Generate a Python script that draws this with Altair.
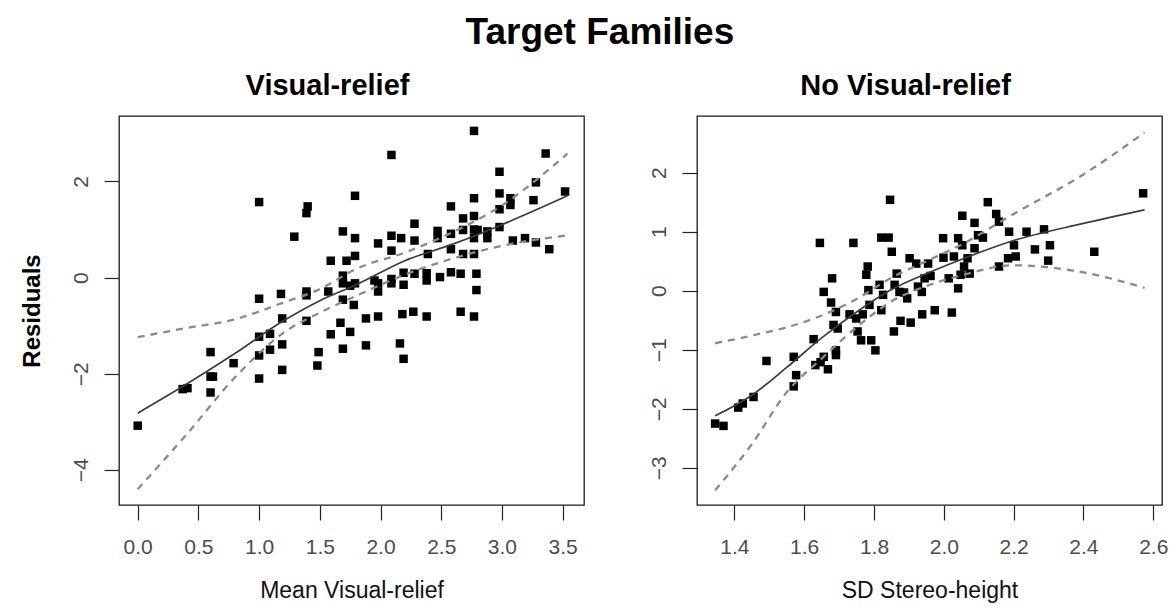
import altair as alt
import pandas as pd

# ---- Visual-relief panel: residuals against mean visual relief ----
vr_x = [0.00, 0.37, 0.41, 0.60, 0.60, 0.62, 0.60, 0.79, 1.00, 1.00, 1.00, 1.00, 1.00,
        1.09, 1.09, 1.18, 1.19, 1.19, 1.19, 1.29, 1.39, 1.40, 1.39, 1.39, 1.39, 1.49,
        1.48, 1.57, 1.59, 1.59, 1.67, 1.69, 1.69, 1.69, 1.69, 1.69, 1.72, 1.75, 1.79,
        1.79, 1.79, 1.79, 1.78, 1.75, 1.88, 1.88, 1.98, 1.98, 1.98, 1.98, 1.95, 2.09,
        2.09, 2.09, 2.09, 2.09, 2.16, 2.19, 2.18, 2.17, 2.19, 2.19, 2.27, 2.28, 2.28,
        2.28, 2.38, 2.38, 2.38, 2.39, 2.47, 2.47, 2.49, 2.58, 2.58, 2.58, 2.58, 2.66,
        2.66, 2.68, 2.68, 2.68, 2.77, 2.77, 2.77, 2.77, 2.77, 2.77, 2.79, 2.79, 2.77,
        2.80, 2.88, 2.88, 2.98, 2.98, 2.98, 2.98, 3.07, 3.07, 3.09, 3.19, 3.26, 3.28,
        3.28, 3.36, 3.39, 3.52]
vr_y = [-3.08, -2.32, -2.30, -1.55, -2.06, -2.06, -2.39, -1.78, 1.57, -0.44, -1.23, -1.62,
        -2.10, -1.17, -1.50, -0.34, -0.85, -1.39, -1.92, 0.85, 1.34, 1.48, -0.29, -0.37,
        -0.90, -1.55, -1.83, -0.29, 0.35, -1.18, -0.94, 0.96, 0.04, -0.12, -0.46, -1.48,
        0.35, -1.13, 1.70, 0.82, 0.45, -0.12, -0.57, -0.17, -0.85, -1.41, 0.71, -0.12,
        -0.29, -0.81, -0.06, 2.55, 0.87, 0.56, -0.03, -0.12, -1.37, -1.69, -0.76, 0.82,
        -0.15, 0.10, -0.71, 1.12, 0.77, 0.08, -0.81, 0.09, -0.06, 0.49, 0.97, 0.82, 0.01,
        1.48, 0.91, 0.59, 0.11, 0.08, -0.71, 1.23, 0.99, 0.49, 3.05, 1.65, 1.28, 1.00,
        0.82, 0.49, 0.08, -0.26, -0.81, 0.99, 0.96, 0.82, 2.20, 1.75, 1.42, 1.05, 1.65,
        1.51, 0.77, 0.82, 1.61, 1.98, 0.73, 2.58, 0.59, 1.79]

# smooth fit with its upper and lower band
vr_cx = [0.00, 0.40, 0.80, 1.20, 1.50, 1.80, 2.20, 2.60, 3.00, 3.54]
vr_fit = [-2.82, -2.22, -1.58, -0.90, -0.48, -0.15, 0.35, 0.70, 1.10, 1.70]
vr_upper = [-1.24, -1.05, -0.87, -0.52, -0.24, 0.18, 0.52, 0.95, 1.50, 2.58]
vr_lower = [-4.40, -3.27, -2.08, -1.15, -0.73, -0.38, 0.06, 0.40, 0.66, 0.88]

# ---- No Visual-relief panel: residuals against SD of stereo height ----
nvr_x = [1.345, 1.369, 1.411, 1.424, 1.455, 1.492, 1.570, 1.577, 1.570, 1.627, 1.632,
         1.647, 1.656, 1.668, 1.645, 1.656, 1.680, 1.677, 1.691, 1.684, 1.696, 1.691,
         1.691, 1.730, 1.741, 1.749, 1.753, 1.763, 1.768, 1.782, 1.778, 1.784, 1.787,
         1.792, 1.804, 1.816, 1.821, 1.842, 1.821, 1.826, 1.846, 1.851, 1.859, 1.857,
         1.865, 1.873, 1.876, 1.886, 1.895, 1.902, 1.905, 1.921, 1.926, 1.937, 1.938,
         1.945, 1.955, 1.962, 1.974, 1.998, 1.999, 2.014, 2.023, 2.029, 2.041, 2.041,
         2.048, 2.053, 2.053, 2.058, 2.068, 2.074, 2.088, 2.088, 2.098, 2.112, 2.126,
         2.150, 2.158, 2.158, 2.187, 2.184, 2.201, 2.206, 2.237, 2.261, 2.287, 2.299,
         2.304, 2.431, 2.571]
nvr_y = [-2.25, -2.29, -1.98, -1.91, -1.80, -1.19, -1.12, -1.43, -1.62, -0.82, -1.26,
         -1.21, -1.12, -1.33, 0.81, -0.02, 0.21, -0.20, -0.36, -0.58, -0.64, -1.01,
         -1.09, -0.40, 0.81, -0.47, -0.69, -0.84, -0.40, 0.41, 0.27, 0.01, -0.24, -0.84,
         -1.01, 0.10, 0.90, 0.90, -0.33, -0.07, 1.54, 0.66, 0.10, -0.69, 0.29, -0.02,
         -0.51, -0.03, -0.13, 0.55, -0.54, 0.46, 0.07, -0.02, -0.40, 0.21, 0.46, 0.25,
         -0.33, 0.89, 0.56, 0.21, -0.37, 0.58, 0.89, 0.04, 0.27, 1.27, 0.77, 0.41, 0.55,
         0.29, 1.15, 0.72, 0.94, 0.90, 1.50, 1.30, 1.17, 0.41, 1.00, 0.55, 0.77, 0.58,
         1.00, 0.70, 1.04, 0.51, 0.77, 0.66, 1.65]

nvr_cx = [1.345, 1.45, 1.55, 1.65, 1.75, 1.85, 1.95, 2.05, 2.20, 2.40, 2.575]
nvr_fit = [-2.12, -1.77, -1.30, -0.80, -0.36, 0.02, 0.29, 0.53, 0.85, 1.14, 1.37]
nvr_upper = [-0.89, -0.76, -0.62, -0.42, -0.14, 0.22, 0.50, 0.78, 1.30, 1.97, 2.68]
nvr_lower = [-3.38, -2.60, -1.72, -1.15, -0.62, -0.18, 0.08, 0.26, 0.43, 0.31, 0.05]

TITLE_FONT = "Liberation Sans, Arial, sans-serif"
LABEL_FONT = "Liberation Sans, Arial, sans-serif"
LABEL_COLOR = "#484d55"


def panel(px, py, cx, fit, upper, lower, title, xtitle, xdom, ydom, xticks, yticks,
          ytitle=None):
    pts = pd.DataFrame({"x": px, "y": py})
    fit_df = pd.DataFrame({"x": cx, "y": fit})
    band_df = pd.concat([
        pd.DataFrame({"x": cx, "y": upper, "band": "upper"}),
        pd.DataFrame({"x": cx, "y": lower, "band": "lower"}),
    ])

    x_axis = alt.Axis(values=xticks, format=".1f", grid=False, domain=False,
                      tickSize=15, tickColor="#222", tickWidth=1.2,
                      labelFont=LABEL_FONT, labelFontSize=21, labelColor=LABEL_COLOR,
                      labelPadding=16, title=xtitle, titleFont=LABEL_FONT,
                      titleFontSize=23, titleFontWeight="normal", titleColor="#111",
                      titlePadding=22)
    y_kwargs = dict(values=yticks, format="d", grid=False, domain=False,
                    tickSize=15, tickColor="#222", tickWidth=1.2,
                    labelFont=LABEL_FONT, labelFontSize=21, labelColor=LABEL_COLOR,
                    labelAngle=270, labelAlign="center", labelBaseline="bottom",
                    labelPadding=13)
    if ytitle:
        y_axis = alt.Axis(title=ytitle, titleFont=TITLE_FONT, titleFontSize=24,
                          titleFontWeight="bold", titleColor="#000", titlePadding=26,
                          **y_kwargs)
    else:
        y_axis = alt.Axis(title=None, **y_kwargs)

    xs = alt.Scale(domain=xdom, nice=False, zero=False)
    ys = alt.Scale(domain=ydom, nice=False, zero=False)

    points = alt.Chart(pts).mark_square(size=72, color="#000", opacity=1).encode(
        x=alt.X("x:Q", scale=xs, axis=x_axis),
        y=alt.Y("y:Q", scale=ys, axis=y_axis),
    )
    band = alt.Chart(band_df).mark_line(
        color="#8a8a8a", strokeWidth=2.3, strokeDash=[7, 6], interpolate="monotone"
    ).encode(x=alt.X("x:Q", scale=xs), y=alt.Y("y:Q", scale=ys), detail="band:N")
    line = alt.Chart(fit_df).mark_line(
        color="#3c3c3c", strokeWidth=1.7, interpolate="monotone"
    ).encode(x=alt.X("x:Q", scale=xs), y=alt.Y("y:Q", scale=ys))

    return alt.layer(points, band, line).properties(
        width=465, height=389,
        title=alt.TitleParams(title, font=TITLE_FONT, fontSize=29, fontWeight="bold",
                              color="#000", offset=15, dx=-24),
    )


left = panel(vr_x, vr_y, vr_cx, vr_fit, vr_upper, vr_lower, "Visual-relief",
             "Mean Visual-relief", [-0.154, 3.676], [-4.73, 3.36],
             [0.0, 0.5, 1.0, 1.5, 2.0, 2.5, 3.0, 3.5], [-4, -2, 0, 2], "Residuals")
right = panel(nvr_x, nvr_y, nvr_cx, nvr_fit, nvr_upper, nvr_lower, "No Visual-relief",
              "SD Stereo-height", [1.293, 2.625], [-3.63, 2.96],
              [1.4, 1.6, 1.8, 2.0, 2.2, 2.4, 2.6], [-3, -2, -1, 0, 1, 2])

chart = alt.hconcat(left, right, spacing=62).properties(
    title=alt.TitleParams("Target Families", font=TITLE_FONT, fontSize=37,
                          fontWeight="bold", color="#000", anchor="middle", offset=19,
                          dx=6),
    padding={"left": 19, "top": 14, "right": 5, "bottom": 5},
    background="white",
).configure_view(stroke="#1a1a1a", strokeWidth=1.3)

chart.save("out.html", embed_options={"renderer": "svg", "actions": False})
